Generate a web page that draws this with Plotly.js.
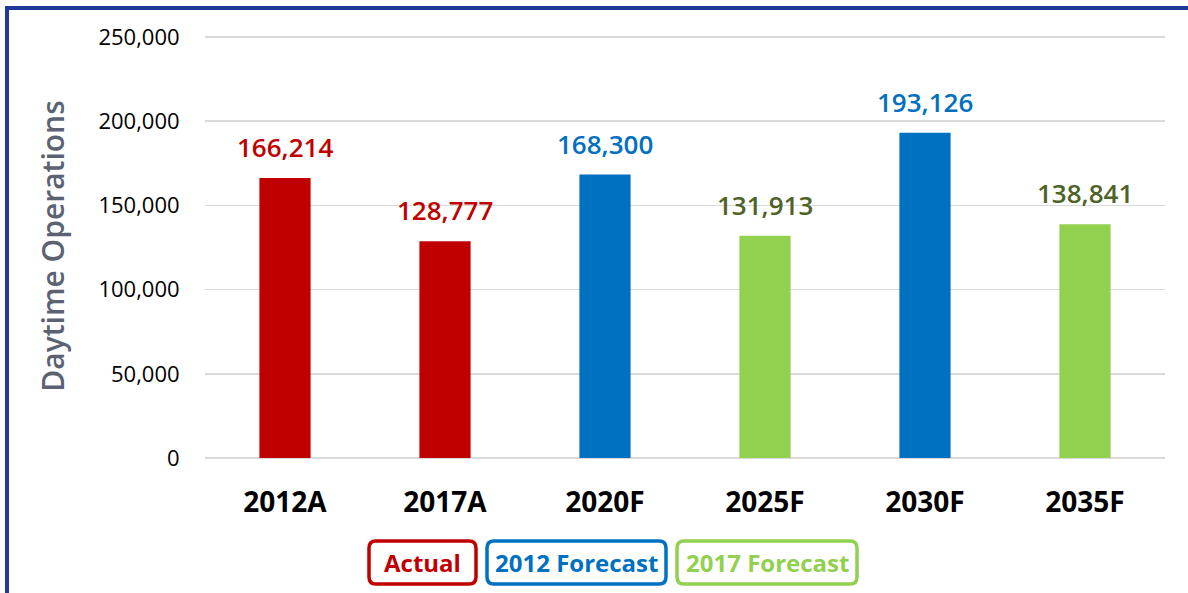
<!DOCTYPE html>
<html><head><meta charset="utf-8">
<script src="https://cdn.plot.ly/plotly-3.0.1.min.js"></script>
<style>html,body{margin:0;padding:0;background:#fff}#c{width:1188px;height:593px}</style>
</head><body><div id="c"></div>
<script>
const categories = ["2012A","2017A","2020F","2025F","2030F","2035F"];
const values = [166214,128777,168300,131913,193126,138841];
const groups = ["Actual","Actual","2012 Forecast","2017 Forecast","2012 Forecast","2017 Forecast"];
const legendNames = ["Actual","2012 Forecast","2017 Forecast"];
const barColors = {"Actual":"#C00000","2012 Forecast":"#0070C0","2017 Forecast":"#92D050"};
const labelColors = {"Actual":"#C00000","2012 Forecast":"#0070C0","2017 Forecast":"#4F6228"};
const legendTextColors = {"Actual":"#C00000","2012 Forecast":"#0070C0","2017 Forecast":"#92D050"};
const yTicks = [0,50000,100000,150000,200000,250000];

const W=1188,H=593,L=205,R=23,T=34,B=135;
const pw=W-L-R, ph=H-T-B;
const px=x=>(x-L)/pw, py=y=>(H-B-y)/ph;
const FONT='"Open Sans", "Noto Sans", sans-serif';

function rrect(x0,y0,x1,y1,r){
  const X=v=>px(v).toFixed(5), Y=v=>py(v).toFixed(5);
  return `M${X(x0+r)},${Y(y0)} L${X(x1-r)},${Y(y0)} Q${X(x1)},${Y(y0)} ${X(x1)},${Y(y0+r)} L${X(x1)},${Y(y1-r)} Q${X(x1)},${Y(y1)} ${X(x1-r)},${Y(y1)} L${X(x0+r)},${Y(y1)} Q${X(x0)},${Y(y1)} ${X(x0)},${Y(y1-r)} L${X(x0)},${Y(y0+r)} Q${X(x0)},${Y(y0)} ${X(x0+r)},${Y(y0)} Z`;
}

const legendBoxes = [[369,541,476,584],[487,541,666,584],[677,541,857,584]];
const shapes = [];
const annotations = [];
legendNames.forEach((n,i)=>{
  const b=legendBoxes[i];
  shapes.push({type:'path',xref:'paper',yref:'paper',path:rrect(b[0],b[1],b[2],b[3],7),
    line:{color:barColors[n],width:3.5},fillcolor:'rgba(0,0,0,0)'});
  annotations.push({xref:'paper',yref:'paper',x:px((b[0]+b[2])/2),y:py((b[1]+b[3])/2),
    text:'<b>'+n+'</b>',showarrow:false,xanchor:'center',yanchor:'middle',
    font:{family:FONT,size:24,color:legendTextColors[n]}});
});
// value labels, placed by the axis scales from the data arrays
categories.forEach((c,i)=>{
  annotations.push({xref:'x',yref:'y',x:c,y:values[i],text:values[i].toLocaleString('en-US'),
    showarrow:false,xanchor:'center',yanchor:'bottom',yshift:11,
    font:{family:FONT,size:26,color:labelColors[groups[i]],weight:600}});
});
// outer border (top and left)
shapes.push({type:'line',xref:'paper',yref:'paper',x0:px(5),x1:px(1188),y0:py(8),y1:py(8),line:{color:'#21399A',width:4}});
shapes.push({type:'line',xref:'paper',yref:'paper',x0:px(7),x1:px(7),y0:py(6),y1:py(593),line:{color:'#21399A',width:4}});

const trace = {
  type:'bar', x:categories, y:values,
  marker:{color:groups.map(g=>barColors[g])},
  hoverinfo:'none'
};
const layout = {
  width:W,height:H,margin:{l:L,r:R,t:T,b:B,pad:0},
  paper_bgcolor:'#fff',plot_bgcolor:'#fff',showlegend:false,bargap:0.68,
  xaxis:{tickfont:{family:FONT,size:28,color:'#000',weight:'bold'},ticks:'',showgrid:false,zeroline:false,showline:false,ticklabelstandoff:25},
  yaxis:{range:[0,251781],tickvals:yTicks,ticktext:yTicks.map(v=>v.toLocaleString('en-US')),
    tickfont:{family:FONT,size:22,color:'#000'},gridcolor:'#D9D9D9',gridwidth:1.5,zeroline:true,zerolinecolor:'#D9D9D9',zerolinewidth:1.5,
    ticks:'outside',ticklen:20,tickcolor:'rgba(0,0,0,0)',
    title:{text:'Daytime Operations',font:{family:FONT,size:30,color:'#5B6373',weight:600},standoff:24}},
  shapes:shapes, annotations:annotations
};
Plotly.newPlot('c',[trace],layout,{staticPlot:true});
</script></body></html>
